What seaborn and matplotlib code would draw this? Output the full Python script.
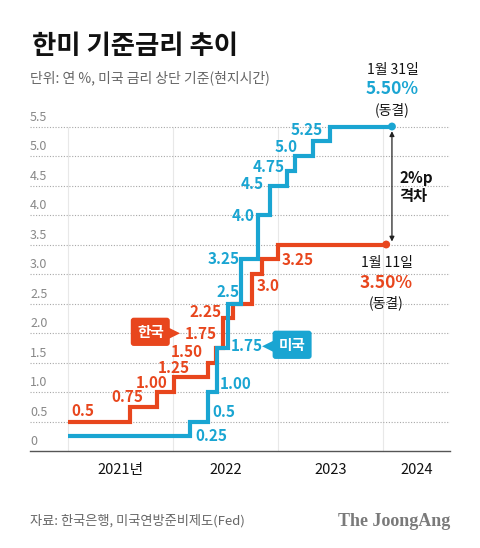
import pandas as pd
import matplotlib
matplotlib.use("Agg")
import matplotlib.pyplot as plt
import matplotlib.dates as mdates
import seaborn as sns


# ── Datos ────────────────────────────────────────────────────────────────────
kr_dates = ["2021-01-01", "2021-08-03", "2021-11-04", "2022-01-05", "2022-05-02", "2022-05-31",
            "2022-06-23", "2022-07-28", "2022-09-30", "2022-11-04", "2023-01-01", "2024-01-11"]
kr_rates = [0.50, 0.75, 1.00, 1.25, 1.50, 1.75, 2.25, 2.50, 3.00, 3.25, 3.50, 3.50]

us_dates = ["2021-01-01", "2022-02-28", "2022-05-02", "2022-06-03", "2022-07-11", "2022-08-26",
            "2022-10-24", "2022-12-03", "2023-02-01", "2023-02-28", "2023-05-02", "2023-06-29",
            "2024-01-31"]
us_rates = [0.25, 0.50, 1.00, 1.75, 2.50, 3.25, 4.00, 4.50, 4.75, 5.00, 5.25, 5.50, 5.50]

kr_labels = ["0.5", "0.75", "1.00", "1.25", "1.50", "1.75", "2.25", "3.0", "3.25"]
us_labels = ["0.25", "0.5", "1.00", "1.75", "2.5", "3.25", "4.0", "4.5", "4.75", "5.0", "5.25"]

y_ticks = [0, 0.5, 1.0, 1.5, 2.0, 2.5, 3.0, 3.5, 4.0, 4.5, 5.0, 5.5]
y_tick_labels = ["0", "0.5", "1.0", "1.5", "2.0", "2.5", "3.0", "3.5", "4.0", "4.5", "5.0", "5.5"]
years = ["2021-01-01", "2022-01-01", "2023-01-01", "2024-01-01"]
year_labels = ["2021년", "2022", "2023", "2024"]

RED = "#e8461d"
BLUE = "#1aa5d2"

# posiciones de las etiquetas (fecha, valor) — solo diseño
kr_label_pos = [("2021-02-19", 0.67), ("2021-07-27", 0.92), ("2021-10-19", 1.16),
                ("2022-01-03", 1.40), ("2022-02-17", 1.68), ("2022-04-05", 1.98),
                ("2022-04-24", 2.36), ("2022-11-26", 2.80), ("2023-03-08", 3.23)]
us_label_pos = [("2022-05-13", 0.25), ("2022-06-25", 0.66), ("2022-08-06", 1.14),
                ("2022-09-14", 1.78), ("2022-07-09", 2.69), ("2022-06-25", 3.25),
                ("2022-08-31", 3.98), ("2022-10-01", 4.53), ("2022-11-28", 4.81),
                ("2023-01-27", 5.15), ("2023-04-10", 5.435)]


def d(s):
    return mdates.date2num(pd.Timestamp(s))


df_kr = pd.DataFrame({"date": pd.to_datetime(kr_dates), "rate": kr_rates})
df_us = pd.DataFrame({"date": pd.to_datetime(us_dates), "rate": us_rates})

# ── Figura ───────────────────────────────────────────────────────────────────
sns.set_style("white")
plt.rcParams["font.family"] = ["Noto Sans CJK KR", "DejaVu Sans"]

fig = plt.figure(figsize=(4.8, 5.48), dpi=100)
ax = fig.add_axes([30 / 480, 97 / 548, 420 / 480, 331 / 548])

x_min = d("2021-01-01") - 133.1
x_max = d("2024-01-01") + 231.8

# rejilla
for yr in years:
    ax.vlines(d(yr), 0, 5.5, color="#e8e8e8", lw=0.8, zorder=0)
ax.hlines(y_ticks[1:], x_min, x_max, colors="#a8a8a8", linestyles=(0, (1, 1.5)), lw=0.8, zorder=1)

# líneas escalonadas
line_kw = dict(linewidth=3, drawstyle="steps-post", solid_joinstyle="miter", solid_capstyle="butt")
sns.lineplot(data=df_kr, x="date", y="rate", ax=ax, color=RED, zorder=3, **line_kw)
sns.lineplot(data=df_us, x="date", y="rate", ax=ax, color=BLUE, zorder=4, **line_kw)
sns.scatterplot(data=df_kr.tail(1), x="date", y="rate", ax=ax, color=RED, s=32,
                edgecolor="none", zorder=5, legend=False)
sns.scatterplot(data=df_us.tail(1), x="date", y="rate", ax=ax, color=BLUE, s=32,
                edgecolor="none", zorder=5, legend=False)

ax.set_xlim(x_min, x_max)
ax.set_ylim(0, 331 / 59)
ax.set_xlabel("")
ax.set_ylabel("")
ax.set_yticks([])

# ejes
for side in ["left", "right", "top"]:
    ax.spines[side].set_visible(False)
ax.spines["bottom"].set_color("#555555")
ax.spines["bottom"].set_linewidth(1)

ax.xaxis.set_major_locator(matplotlib.ticker.FixedLocator([d(y) for y in years]))
months = pd.date_range("2021-01-01", "2024-07-01", freq="MS")
ax.xaxis.set_minor_locator(matplotlib.ticker.FixedLocator(mdates.date2num(months)))
ax.tick_params(axis="x", which="major", length=17, width=1, color="#9a9a9a", labelbottom=False)
ax.tick_params(axis="x", which="minor", length=3, width=0.7, color="#aaaaaa")

for v, lab in zip(y_ticks, y_tick_labels):
    ax.text(x_min, v + 0.05, lab, ha="left", va="bottom", fontsize=9, color="#888888")

year_end = list(years[1:]) + [None]
for yr, nxt, lab in zip(years, year_end, year_labels):
    right = d(nxt) if nxt else x_max
    ax.text((d(yr) + right) / 2, -0.32, lab, ha="center", va="center", fontsize=10.5, color="#111111")

# etiquetas de valores
for lab, (dt, yv) in zip(kr_labels, kr_label_pos):
    ax.text(d(dt), yv, lab, ha="center", va="center", fontsize=11, fontweight="bold", color=RED)
for lab, (dt, yv) in zip(us_labels, us_label_pos):
    ax.text(d(dt), yv, lab, ha="center", va="center", fontsize=11, fontweight="bold", color=BLUE)

# etiquetas de país (caja con punta)
badge_kw = dict(ha="center", va="center", fontsize=10.5, fontweight="bold", color="white", zorder=6)
kr_badge = ax.text(d("2021-10-13"), 2.02, "한국",
                   bbox=dict(boxstyle="round,pad=0.42,rounding_size=0.2", fc=RED, ec="none"), **badge_kw)
us_badge = ax.text(d("2023-02-18"), 1.80, "미국",
                   bbox=dict(boxstyle="round,pad=0.42,rounding_size=0.2", fc=BLUE, ec="none"), **badge_kw)
ax.annotate("▶", xy=(1, 0.5), xycoords=kr_badge, xytext=(-0.5, 0), textcoords="offset points",
            ha="left", va="center", fontsize=16, color=RED, family="DejaVu Sans", zorder=5)
ax.annotate("◀", xy=(0, 0.5), xycoords=us_badge, xytext=(0.5, 0), textcoords="offset points",
            ha="right", va="center", fontsize=16, color=BLUE, family="DejaVu Sans", zorder=5)

# anotaciones finales
x_us = d("2024-02-02")
ax.text(x_us, 6.46, "1월 31일", ha="center", va="center", fontsize=10, color="#111111")
ax.text(x_us, 6.13, "5.50%", ha="center", va="center", fontsize=12.5, fontweight="bold", color=BLUE)
ax.text(x_us, 5.79, "(동결)", ha="center", va="center", fontsize=10, color="#111111")

x_kr = d("2024-01-12")
ax.text(x_kr, 3.18, "1월 11일", ha="center", va="center", fontsize=10, color="#111111")
ax.text(x_kr, 2.85, "3.50%", ha="center", va="center", fontsize=12.5, fontweight="bold", color=RED)
ax.text(x_kr, 2.51, "(동결)", ha="center", va="center", fontsize=10, color="#111111")

ax.annotate("", xy=(d("2024-01-31"), 3.55), xytext=(d("2024-01-31"), 5.42),
            arrowprops=dict(arrowstyle="<|-|>", color="#222222", lw=0.9, mutation_scale=7,
                            shrinkA=0, shrinkB=0))
ax.text(d("2024-02-25"), 4.62, "2%p", ha="left", va="center", fontsize=11, fontweight="bold", color="#111111")
ax.text(d("2024-02-25"), 4.33, "격차", ha="left", va="center", fontsize=11, fontweight="bold", color="#111111")

# títulos y fuente
fig.text(32 / 480, 1 - 47 / 548, "한미 기준금리 추이", ha="left", va="center",
         fontsize=19, fontweight="bold", color="#111111")
fig.text(30 / 480, 1 - 78 / 548, "단위: 연 %, 미국 금리 상단 기준(현지시간)", ha="left", va="center",
         fontsize=10, color="#666666")
fig.text(30 / 480, 1 - 521 / 548, "자료: 한국은행, 미국연방준비제도(Fed)", ha="left", va="center",
         fontsize=9.5, color="#666666")
fig.text(450 / 480, 1 - 521 / 548, "The JoongAng", ha="right", va="center",
         fontsize=13, fontweight="bold", family="Liberation Serif", color="#7a7a7a")

fig.savefig("out.png", dpi=100, facecolor="white")
